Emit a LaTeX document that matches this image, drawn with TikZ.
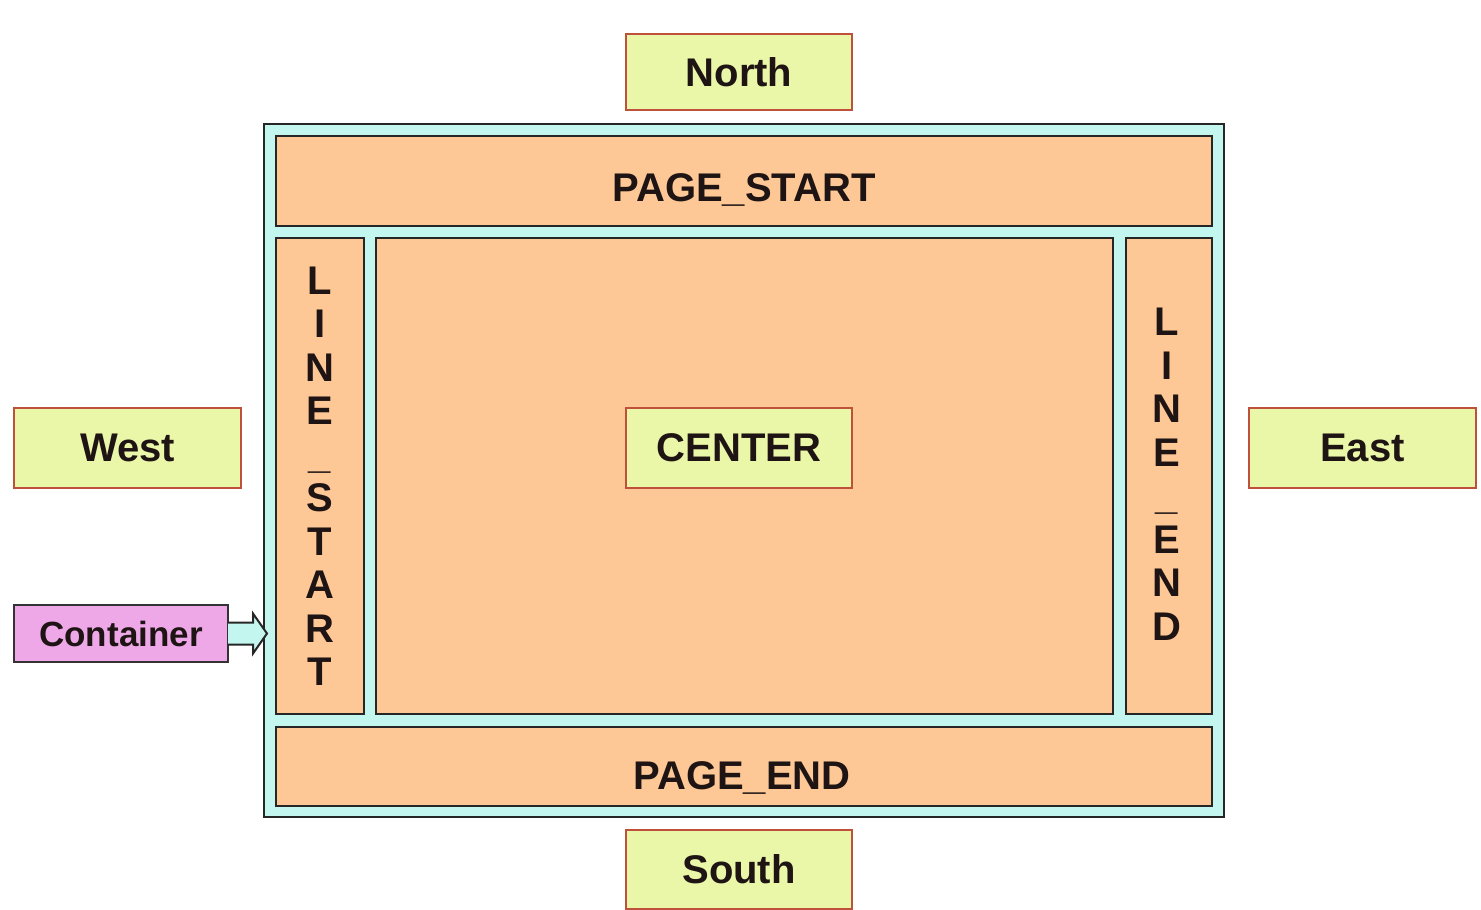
\documentclass[tikz,border=0pt]{standalone}
\usepackage{fontspec}
\setmainfont{Liberation Sans}
\definecolor{orangefill}{RGB}{253,200,150}
\definecolor{cyanfill}{RGB}{196,246,240}
\definecolor{greenfill}{RGB}{234,246,168}
\definecolor{greenline}{RGB}{190,80,60}
\definecolor{pinkfill}{RGB}{238,168,232}
\definecolor{inkcol}{RGB}{30,20,20}
\begin{document}
\begin{tikzpicture}[x=1pt,y=-1pt,
  every node/.style={inner sep=0pt, outer sep=0pt},
  txt/.style={font=\bfseries\fontsize{40}{44}\selectfont, text=inkcol},
  greenbox/.style={draw=greenline, line width=1.8pt, fill=greenfill, txt},
  panel/.style={draw=black!85, line width=2.4pt, fill=orangefill},
  outerbox/.style={draw=black!85, line width=2.4pt, fill=cyanfill},
  pinkbox/.style={draw=black!80, line width=2.2pt, fill=pinkfill, font=\bfseries\fontsize{35}{40}\selectfont, text=inkcol},
  arrowshape/.style={draw=black!85, line width=2pt, fill=cyanfill, line join=miter},
  vtxt/.style={txt, align=center, font=\bfseries\fontsize{40}{43.5}\selectfont}
]
\useasboundingbox (0,0) rectangle (1481,910);
\fill[white] (0,0) rectangle (1481,910);

% outer container and panels
\node[outerbox, minimum width=960pt, minimum height=693pt] (outer) at (744,470.5) {};
\node[panel, minimum width=936pt, minimum height=90pt] (pstart) at (744,181) {};
\node[panel, minimum width=88pt, minimum height=476pt] (lstart) at (320,476) {};
\node[panel, minimum width=737pt, minimum height=476pt] (carea) at (744.5,476) {};
\node[panel, minimum width=86pt, minimum height=476pt] (lend) at (1169,476) {};
\node[panel, minimum width=936pt, minimum height=79pt] (pend) at (744,766.5) {};

\node[txt] (pstarttxt) at ([shift={(0,9)}]pstart.center) {PAGE\_START};
\node[txt] (pendtxt) at ([shift={(-2,11)}]pend.center) {PAGE\_END};
\node[vtxt] (lstarttxt) at (lstart.center) {L\\I\\N\\E\\\_\\S\\T\\A\\R\\T};
\node[vtxt] (lendtxt) at ([shift={(-2,-2)}]lend.center) {L\\I\\N\\E\\\_\\E\\N\\D};

% green boxes
\node[greenbox, minimum width=226pt, minimum height=76pt] (north) at (739,72) {North};
\node[greenbox, minimum width=226pt, minimum height=80pt] (center) at (739,448) {CENTER};
\node[greenbox, minimum width=227pt, minimum height=80pt] (west) at (127.5,448) {West};
\node[greenbox, minimum width=227pt, minimum height=80pt] (east) at (1362.5,448) {East};
\node[greenbox, minimum width=226pt, minimum height=79pt] (south) at (739,869.5) {South};

% container and arrow
\node[pinkbox, minimum width=214pt, minimum height=57pt] (cont) at (121,633.5) {Container};
\coordinate (tip) at ([shift={(3,0)}]outer.west |- cont.east);
\draw[arrowshape] ([shift={(0,-11)}]cont.east) -- ++(25,0) -- ++(0,-9) -- (tip)
  -- ([shift={(-14,20)}]tip) -- ++(0,-9) -- ([shift={(0,11)}]cont.east);
\end{tikzpicture}
\end{document}
